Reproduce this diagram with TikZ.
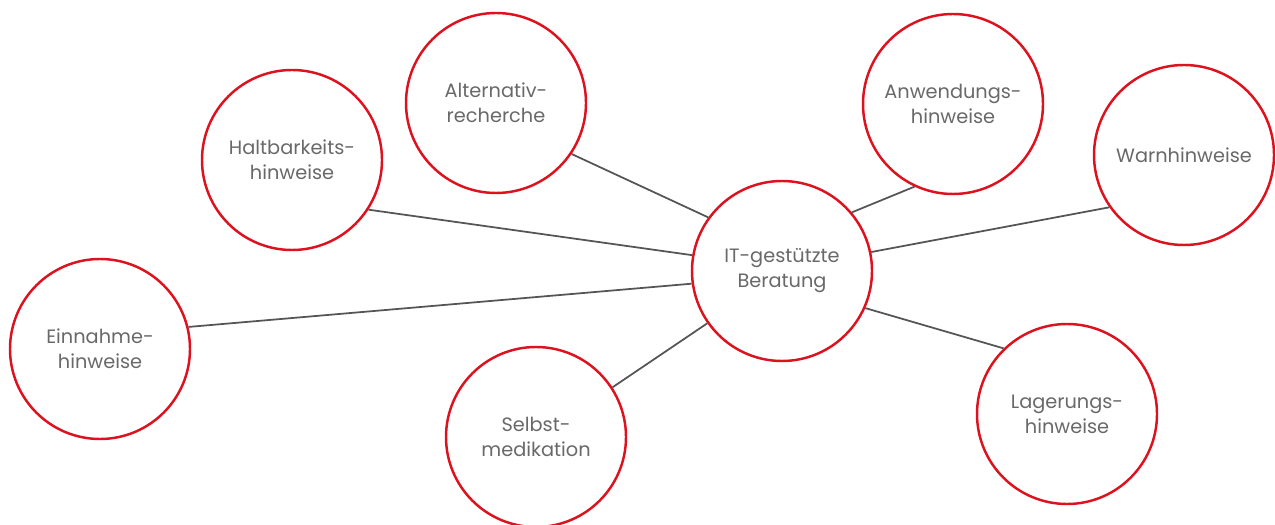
\documentclass[tikz,border=0pt]{standalone}
\usepackage{fontspec}
\setmainfont{Poppins}
\usetikzlibrary{positioning, calc}
\definecolor{ringred}{RGB}{221,18,30}
\definecolor{txtgray}{RGB}{105,105,105}
\definecolor{linegray}{RGB}{85,85,85}
\tikzset{
  topic/.style={circle,draw=ringred,line width=1.4pt,fill=white,minimum size=3.6cm,
    inner sep=0pt,align=center,text=txtgray,font=\fontsize{11}{14.2}\selectfont},
  link/.style={draw=linegray,line width=1pt}
}

\begin{document}
\begin{tikzpicture}
\useasboundingbox (0,0) rectangle (25.5,10.48);
\draw   (15.64,5.06) node[topic](hub){IT-gestützte\\Beratung}
        (9.92,8.42) node[topic](alt){Alternativ-\\recherche}   (5.84,7.28) node[topic](halt){Haltbarkeits-\\hinweise}
        (2.00,3.50) node[topic](ein){Einnahme-\\hinweise}       (10.72,1.74) node[topic](selbst){Selbst-\\medikation}
        (19.06,8.40) node[topic](anw){Anwendungs-\\hinweise}    (23.68,7.38) node[topic](warn){Warnhinweise}
        (21.34,2.20) node[topic](lager){Lagerungs-\\hinweise};
\path[link]
    (hub.144) edge node {} (alt.-34)
    (hub.170) edge node {} (halt.-33)
    (hub.188) edge node {} (ein.14)
    (hub.215) edge node {} (selbst.33)
    (hub.40)  edge node {} (anw.245)
    (hub.12)  edge node {} (warn.215)
    (hub.-24) edge node {} (lager.134);
\end{tikzpicture}
\end{document}
